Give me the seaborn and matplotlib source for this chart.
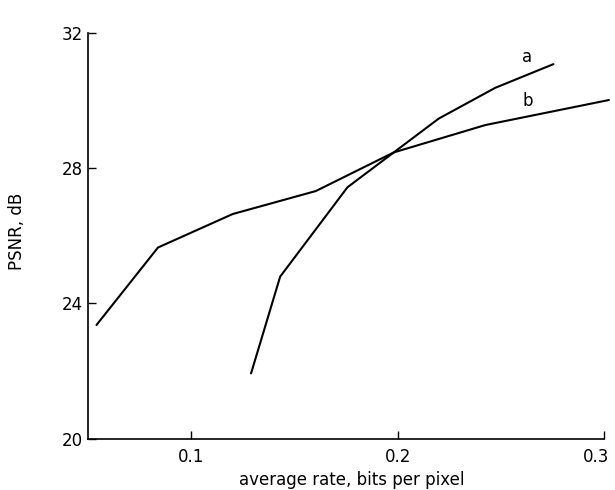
import matplotlib
matplotlib.use("Agg")
import matplotlib.pyplot as plt
import matplotlib.transforms as mtransforms
import seaborn as sns
import pandas as pd

# rate (bits per pixel) and PSNR (dB) for the two coders
rate_a = [0.129, 0.1431, 0.1757, 0.2199, 0.2473, 0.2755]
psnr_a = [21.93, 24.79, 27.43, 29.46, 30.37, 31.07]
rate_b = [0.0541, 0.0839, 0.1201, 0.1604, 0.1981, 0.2425, 0.3024]
psnr_b = [23.36, 25.65, 26.64, 27.32, 28.46, 29.27, 30.01]

curve_names = ["a", "b"]
label_pos = {"a": (0.2628, 31.28), "b": (0.2633, 29.99)}

x_ticks = [0.1, 0.2, 0.3]
x_tick_labels = ["0.1", "0.2", "0.3"]
y_ticks = [20, 24, 28, 32]
y_tick_labels = ["20", "24", "28", "32"]

df = pd.concat([
    pd.DataFrame({"rate": rate_a, "psnr": psnr_a, "curve": "a"}),
    pd.DataFrame({"rate": rate_b, "psnr": psnr_b, "curve": "b"}),
], ignore_index=True)

sns.set_style("ticks")
plt.rcParams["font.family"] = ["DejaVu Sans"]

fig = plt.figure(figsize=(6.15, 4.9), dpi=100)
ax = fig.add_axes([0.1431, 0.1047, 0.839, 0.8286])

sns.lineplot(data=df, x="rate", y="psnr", hue="curve", units="curve",
             estimator=None, sort=False, palette={"a": "black", "b": "black"},
             linewidth=1.5, legend=False, ax=ax, clip_on=False)

for name in curve_names:
    x, y = label_pos[name]
    ax.text(x, y, name, ha="center", va="center", fontsize=12, color="black")

ax.set_xlim(0.05, 0.3)
ax.set_ylim(20, 32)
ax.set_xticks(x_ticks)
ax.set_xticklabels(x_tick_labels)
ax.set_yticks(y_ticks)
ax.set_yticklabels(y_tick_labels)
ax.tick_params(axis="both", direction="in", length=6, width=1.0,
               labelsize=12, colors="black")
ax.tick_params(axis="x", pad=7)
ax.tick_params(axis="y", pad=4)

# keep the last x tick label inside the figure edge
last = ax.get_xticklabels()[-1]
last.set_transform(last.get_transform() +
                   mtransforms.ScaledTranslation(-8 / 100, 0, fig.dpi_scale_trans))

for side in ["top", "right"]:
    ax.spines[side].set_visible(False)
for side in ["left", "bottom"]:
    ax.spines[side].set_linewidth(1.2)
    ax.spines[side].set_color("black")

ax.set_xlabel("average rate, bits per pixel", fontsize=12, color="black")
ax.xaxis.set_label_coords(0.5116, -0.080)
ax.set_ylabel("PSNR, dB", fontsize=12, color="black", va="center")
ax.yaxis.set_label_coords(-0.1376, 0.51)

fig.savefig("out.png", dpi=100, facecolor="white")
